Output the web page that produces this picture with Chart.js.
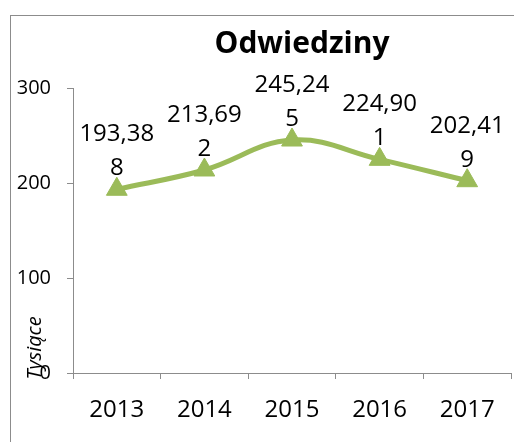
<!DOCTYPE html>
<html>
<head>
<meta charset="utf-8">
<script src="https://cdn.jsdelivr.net/npm/chart.js@4"></script>
<style>
  html, body { margin: 0; padding: 0; background: #fff; overflow: hidden; }
  #wrap { width: 514px; height: 442px; }
</style>
</head>
<body>
<div id="wrap"><canvas id="visits" width="514" height="442"></canvas></div>
<script>
const years = ['2013', '2014', '2015', '2016', '2017'];
const visits = [193.388, 213.692, 245.245, 224.901, 202.419];
const yTicks = [0, 100, 200, 300];

const lineColor = '#9BBB59';
const fontFamily = '"Open Sans", sans-serif';

// format as Excel does: 193,388 wrapped after 6 chars
function labelLines(v) {
  const s = v.toFixed(3).replace('.', ',');
  return [s.slice(0, 6), s.slice(6)];
}

const frame = {
  id: 'frame',
  beforeDraw(chart) {
    const c = chart.ctx;
    c.save();
    c.fillStyle = '#fff';
    c.fillRect(0, 0, chart.width, chart.height);
    c.strokeStyle = '#8c8c8c';
    c.lineWidth = 1;
    c.strokeRect(10.5, 15.5, chart.width + 20, chart.height + 20);
    // title, centred on the whole (cut off) chart object
    c.font = 'bold 30px ' + fontFamily;
    c.fillStyle = '#000';
    c.textAlign = 'center';
    c.textBaseline = 'middle';
    c.fillText('Odwiedziny', 302, 44);
    c.restore();
  },
  afterDraw(chart) {
    const c = chart.ctx;
    c.save();
    // axis title, sits over the 0 label like in the original
    c.translate(35, 348);
    c.rotate(-Math.PI / 2);
    c.font = 'italic 20px ' + fontFamily;
    c.fillStyle = '#000';
    c.textAlign = 'center';
    c.textBaseline = 'middle';
    c.fillText('Tysiące', 0, 0);
    c.restore();
  }
};

const valueLabels = {
  id: 'valueLabels',
  afterDatasetsDraw(chart) {
    const c = chart.ctx;
    const meta = chart.getDatasetMeta(0);
    c.save();
    c.font = '24px ' + fontFamily;
    c.fillStyle = '#000';
    c.textAlign = 'center';
    c.textBaseline = 'middle';
    meta.data.forEach((pt, i) => {
      const lines = labelLines(visits[i]);
      c.fillText(lines[0], pt.x, pt.y - 55);
      c.fillText(lines[1], pt.x, pt.y - 21);
    });
    c.restore();
  }
};

new Chart(document.getElementById('visits').getContext('2d'), {
  type: 'line',
  data: {
    labels: years,
    datasets: [{
      label: 'Odwiedziny',
      data: visits,
      borderColor: lineColor,
      backgroundColor: lineColor,
      borderWidth: 5,
      tension: 0.4,
      pointStyle: 'triangle',
      pointRadius: 12,
      pointHoverRadius: 12,
      pointBackgroundColor: lineColor,
      pointBorderColor: lineColor,
      pointBorderWidth: 1,
      clip: false
    }]
  },
  options: {
    responsive: false,
    animation: false,
    layout: { autoPadding: false, padding: { left: 10, right: 3, top: 88, bottom: 0 } },
    plugins: {
      legend: { display: false },
      tooltip: { enabled: false },
      title: { display: false }
    },
    scales: {
      x: {
        offset: true,
        grid: { display: true, drawOnChartArea: false, offset: true, tickLength: 6, color: '#8c8c8c' },
        border: { color: '#8c8c8c', width: 1 },
        ticks: { color: '#000', font: { family: fontFamily, size: 24 }, padding: 17, maxRotation: 0 },
        afterFit(scale) {
          scale.height = 69;
          scale.paddingLeft = 0;
          scale.paddingRight = 0;
        }
      },
      y: {
        min: 0,
        max: 300,
        afterBuildTicks(scale) { scale.ticks = yTicks.map(v => ({ value: v })); },
        grid: { display: true, drawOnChartArea: false, tickLength: 6, color: '#8c8c8c' },
        border: { color: '#8c8c8c', width: 1 },
        ticks: { color: '#000', font: { family: fontFamily, size: 20 }, padding: 16 },
        afterFit(scale) {
          scale.width = 63;
          scale.paddingTop = 0;
          scale.paddingBottom = 0;
        }
      }
    }
  },
  plugins: [frame, valueLabels]
});
</script>
</body>
</html>
